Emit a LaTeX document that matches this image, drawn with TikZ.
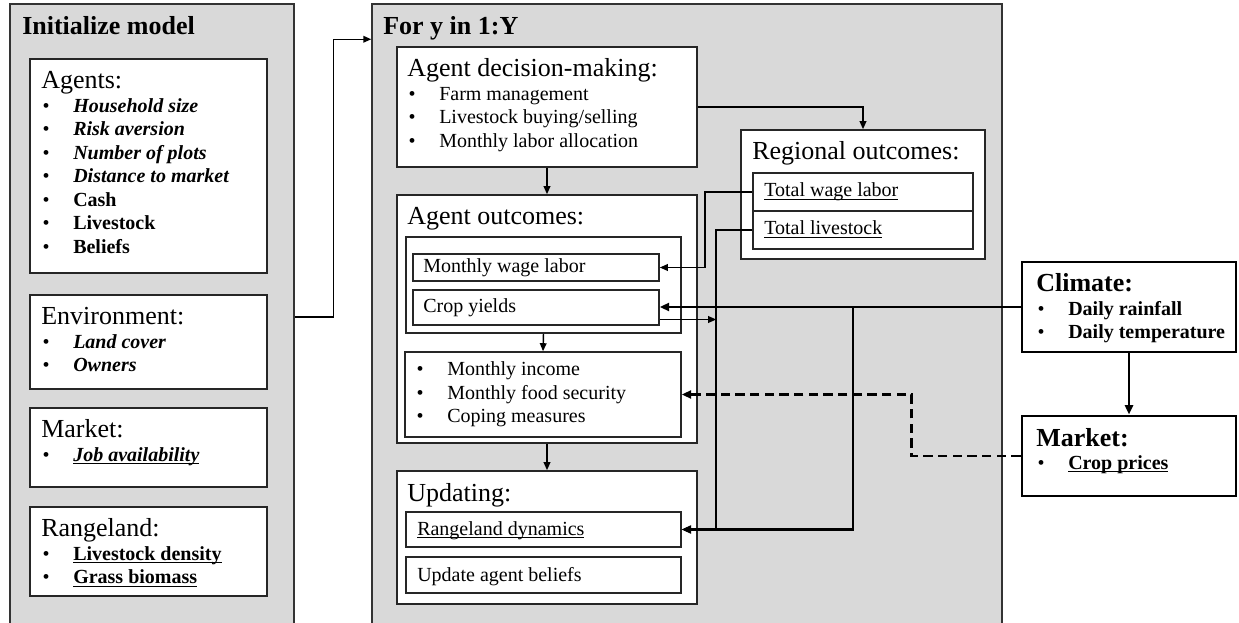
\documentclass[tikz,border=0pt]{standalone}
\usepackage{fontspec}
\setmainfont{Liberation Serif}
\usetikzlibrary{arrows.meta,fit}
\definecolor{panelgrey}{RGB}{217,217,217}
% heading line inside a text block
\newcommand\hdg[1]{{\fontsize{19.5}{17.6}\selectfont #1}}
% bullet followed by a fixed indent
\newcommand\bl{\makebox[24pt][l]{\hspace{1pt}\textbullet}}
% underline at a fixed depth below the baseline
\newcommand\undl[1]{\setbox0=\hbox{#1}\rlap{\rule[-2pt]{\wd0}{0.75pt}}\box0}
\begin{document}
\begin{tikzpicture}[x=0.75pt,y=-0.75pt,
  panel/.style={draw=black!80, fill=panelgrey, line width=1.1pt, inner sep=0pt},
  wbox/.style={draw=black!85, fill=white, line width=1.2pt, inner sep=0pt},
  hbox/.style={draw=black, fill=white, line width=2.2pt, inner sep=0pt},
  txt/.style={anchor=base west, inner sep=0pt, font=\fontsize{15}{17.6}\selectfont},
  ttl/.style={anchor=base west, inner sep=0pt, font=\fontsize{19.5}{20}\selectfont\bfseries},
  arr/.style={line width=1.1pt, -{Triangle[length=6pt,width=5pt]}},
  tarr/.style={line width=2.2pt, -{Triangle[length=7pt,width=6pt]}},
  darr/.style={tarr, dash pattern=on 7pt off 4pt},
]
\useasboundingbox (0,0) rectangle (1239,623);

% ---------- initialisation panel ----------
\node[panel, fit={(10,4) (294,630)}] (init) {};
\node[ttl] (init-t) at (22,35) {Initialize model};
\node[wbox, fit={(30,59) (267,273)}] (agents) {};
\node[txt] (agents-t) at (41,89) {\begin{tabular}[t]{@{}l@{}}
  \hdg{Agents:}\\
  \bl\textbf{\textit{Household size}}\\
  \bl\textbf{\textit{Risk aversion}}\\
  \bl\textbf{\textit{Number of plots}}\\
  \bl\textbf{\textit{Distance to market}}\\
  \bl\textbf{Cash}\\
  \bl\textbf{Livestock}\\
  \bl\textbf{Beliefs}
\end{tabular}};
\node[wbox, fit={(30,295) (267,389)}] (env) {};
\node[txt] (env-t) at (41,325) {\begin{tabular}[t]{@{}l@{}}
  \hdg{Environment:}\\
  \bl\textbf{\textit{Land cover}}\\
  \bl\textbf{\textit{Owners}}
\end{tabular}};
\node[wbox, fit={(30,408) (267,487)}] (imkt) {};
\node[txt] (imkt-t) at (41,438) {\begin{tabular}[t]{@{}l@{}}
  \hdg{Market:}\\
  \bl\textbf{\textit{\undl{Job availability}}}
\end{tabular}};
\node[wbox, fit={(30,507) (267,596)}] (rng) {};
\node[txt] (rng-t) at (41,537) {\begin{tabular}[t]{@{}l@{}}
  \hdg{Rangeland:}\\
  \bl\textbf{\undl{Livestock density}}\\
  \bl\textbf{\undl{Grass biomass}}
\end{tabular}};

% ---------- yearly loop panel ----------
\node[panel, fit={(372,4) (1002,630)}] (for) {};
\node[ttl] (for-t) at (383,35) {For y in 1:Y};

\node[wbox, fit={(397,47) (697,167)}] (dec) {};
\node[txt] (dec-t) at (407,77) {\begin{tabular}[t]{@{}l@{}}
  \hdg{Agent decision-making:}\\
  \bl Farm management\\
  \bl Livestock buying/selling\\
  \bl Monthly labor allocation
\end{tabular}};

\node[wbox, fit={(397,195) (697,443)}] (aout) {};
\node[txt] (aout-t) at (407,225) {\hdg{Agent outcomes:}};
\node[wbox, fit={(406,237) (681,333)}] (inner) {};
\node[wbox, fit={(413,254) (659,281)}] (mwl) {};
\node[txt] (mwl-t) at (423,273) {Monthly wage labor};
\node[wbox, fit={(413,290) (659,325)}] (cy) {};
\node[txt] (cy-t) at (423,313) {Crop yields};
\node[wbox, fit={(405,352) (681,437)}] (olist) {};
\node[txt] (olist-t) at (415,376) {\begin{tabular}[t]{@{}l@{}}
  \bl Monthly income\\
  \bl Monthly food security\\
  \bl Coping measures
\end{tabular}};

\node[wbox, fit={(397,471) (697,604)}] (upd) {};
\node[txt] (upd-t) at (407,501) {\hdg{Updating:}};
\node[wbox, fit={(406,512) (681,547)}] (rdyn) {};
\node[txt] (rdyn-t) at (417,535) {\undl{Rangeland dynamics}};
\node[wbox, fit={(406,557) (681,593)}] (ubel) {};
\node[txt] (ubel-t) at (417,581) {Update agent beliefs};

\node[wbox, fit={(741,130) (985,259)}] (reg) {};
\node[txt] (reg-t) at (752,160) {\hdg{Regional outcomes:}};
\node[wbox, fit={(753,173) (973,211)}] (twl) {};
\node[txt] (twl-t) at (764,197) {\undl{Total wage labor}};
\node[wbox, fit={(753,211) (973,249)}] (tliv) {};
\node[txt] (tliv-t) at (764,235) {\undl{Total livestock}};

% ---------- external drivers ----------
\node[hbox, fit={(1022,262) (1236,352)}] (clim) {};
\node[txt] (clim-t) at (1036,292) {\begin{tabular}[t]{@{}l@{}}
  \hdg{\textbf{Climate:}}\\
  \bl\textbf{Daily rainfall}\\
  \bl\textbf{Daily temperature}
\end{tabular}};
\node[hbox, fit={(1022,416) (1236,496)}] (mkt) {};
\node[txt] (mkt-t) at (1036,446) {\begin{tabular}[t]{@{}l@{}}
  \hdg{\textbf{Market:}}\\
  \bl\textbf{\undl{Crop prices}}
\end{tabular}};

% ---------- connectors ----------
\draw[arr] (init.east) -- ++(39,0) |- ([yshift=-27pt]for.north west);
\draw[arr] (dec.south) -- (aout.north);
\draw[arr] (dec.east) -| (reg.north);
\draw[arr] (inner.south) -- (olist.north);
\draw[arr] (aout.south) -- (upd.north);
\draw[arr] (twl.west) -- ++(-47,0) |- (mwl.east);
\path (tliv.west) -- ++(-36,0) coordinate (tlb);
\coordinate (cyout) at ([yshift=-9pt]cy.east);
\draw[arr] (tliv.west) -- (tlb) |- (rdyn.east);
\draw[arr] (cyout) -- (cyout -| tlb);
\draw[tarr] (clim.west) -- (clim.west -| cy.east);
\coordinate (cb) at (853,307);
\draw[tarr] (clim.west -| cb) |- (rdyn.east);
\draw[tarr] (clim.south) -- (mkt.north);
\draw[darr] (mkt.west) -- ++(-109,0) |- (olist.east);
\end{tikzpicture}
\end{document}
